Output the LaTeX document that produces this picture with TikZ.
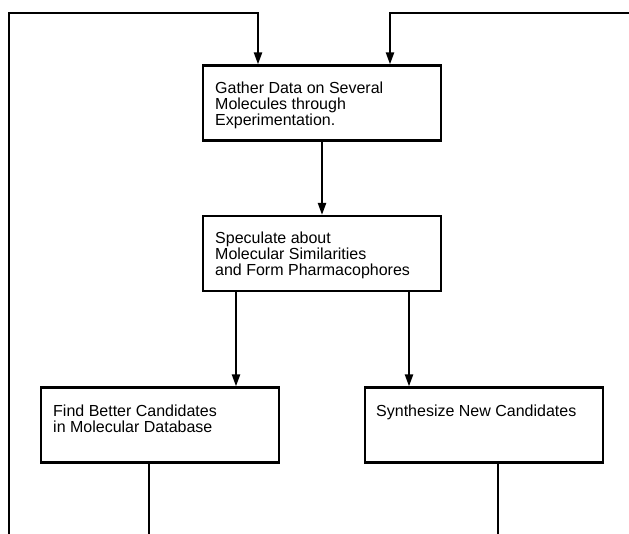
\documentclass[tikz,border=0pt]{standalone}
\usepackage{fontspec}
\setmainfont{Liberation Sans}
\usetikzlibrary{arrows.meta}
\begin{document}
\begin{tikzpicture}[x=1pt,y=-1pt,
  box/.style={draw=black, line width=2.2pt, rectangle, minimum width=238pt, minimum height=75pt, inner sep=0pt},
  txt/.style={anchor=north west, inner sep=0pt, align=left, font=\fontsize{16}{16}\selectfont},
  conn/.style={line width=2.2pt},
  arr/.style={conn, -{Triangle[length=12pt,width=8pt]}}]
\useasboundingbox (0,0) rectangle (629,533);
% boxes
\node[box] (gather) at (322,103) {};
\node[box] (spec) at (322,253.5) {};
\node[box] (find) at (160,425) {};
\node[box] (synth) at (484,425) {};
% texts
\node[txt] (tgather) at (215,81.5) {Gather Data on Several\\Molecules through\\Experimentation.};
\node[txt] (tspec) at (215,231.5) {Speculate about\\Molecular Similarities\\and Form Pharmacophores};
\node[txt] (tfind) at (53,404.5) {Find Better Candidates\\in Molecular Database};
\node[txt] (tsynth) at (376,404.5) {Synthesize New Candidates};
% loose ends
\coordinate (lb) at (9,534);
\coordinate (ltop) at (9,13);
\coordinate (lturn) at (258,13);
\coordinate (rb) at (630,13);
\coordinate (rturn) at (390,13);
\coordinate (fb) at (149,534);
\coordinate (sb) at (498,534);
% connectors
\draw[arr] (lb) -- (ltop) -- (lturn) -- (lturn |- gather.north);
\draw[arr] (rb) -- (rturn) -- (rturn |- gather.north);
\draw[arr] (gather.south) -- (spec.north);
\draw[arr] (spec.south -| 236,0) -- (236,0 |- find.north);
\draw[arr] (spec.south -| 409,0) -- (409,0 |- synth.north);
\draw[conn] (find.south -| fb) -- (fb);
\draw[conn] (synth.south -| sb) -- (sb);
\end{tikzpicture}
\end{document}
